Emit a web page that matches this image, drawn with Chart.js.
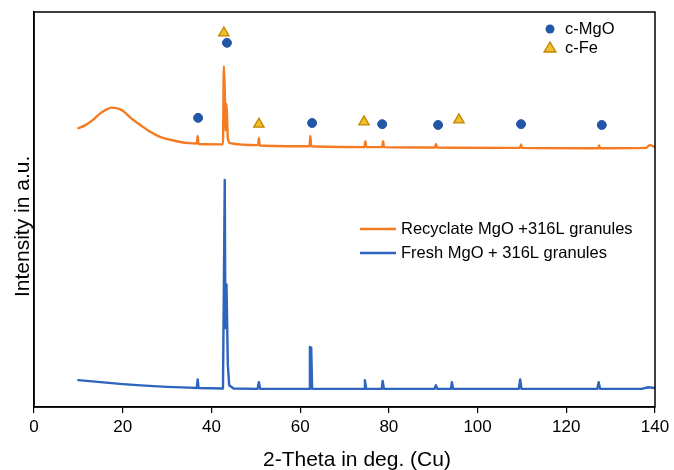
<!DOCTYPE html>
<html>
<head>
<meta charset="utf-8">
<script src="https://cdn.jsdelivr.net/npm/chart.js@4"></script>
<style>
  html, body { margin: 0; padding: 0; background: #fff; }
  #wrap { width: 674px; height: 470px; }
</style>
</head>
<body>
<div id="wrap"><canvas id="xrd" width="674" height="470"></canvas></div>
<script>
// 2-theta positions and intensities (a.u., offset)
const freshTheta = [10, 15, 20, 25, 30, 35, 36.7, 36.9, 37.1, 42.6, 42.8, 43.0, 43.15, 43.4, 43.7, 44.0, 45,
  50.4, 50.7, 51.0, 62.0, 62.2, 62.5, 62.7, 74.4, 74.6, 74.9, 78.4, 78.6, 78.9, 90.3, 90.6, 90.9,
  94.0, 94.2, 94.5, 109.3, 109.6, 109.9, 127.0, 127.3, 127.6, 137, 138.5, 140];
const freshIntensity = [6.8, 6.3, 5.8, 5.4, 5.1, 4.9, 4.8, 7.0, 4.8, 4.7, 30, 57.5, 20, 31, 10.6, 5.5, 4.7,
  4.6, 6.3, 4.6, 4.6, 15.2, 15, 4.6, 4.6, 6.8, 4.6, 4.6, 6.6, 4.6, 4.6, 5.5, 4.6,
  4.6, 6.3, 4.6, 4.6, 7.0, 4.6, 4.6, 6.3, 4.6, 4.6, 5.0, 4.8];

const recycledTheta = [10, 11.5, 13.3, 15, 16.3, 17.5, 18.8, 20, 22, 24, 26, 28.4, 31, 33, 35, 36.7, 36.9, 37.1,
  42.6, 42.8, 43.0, 43.2, 43.4, 43.7, 44.2, 50.5, 50.7, 50.9, 62.1, 62.3, 62.5, 74.5, 74.7, 74.9,
  78.5, 78.7, 78.9, 90.4, 90.6, 90.9, 109.6, 109.8, 110, 127.2, 127.4, 127.6, 138, 138.8, 140];
const recycledIntensity = [70.6, 71.3, 72.7, 74.4, 75.3, 75.8, 75.6, 75.0, 73.0, 71.4, 69.8, 68.4, 67.6, 67.1, 66.8, 66.7, 68.6, 66.6,
  66.5, 86.3, 80, 70, 76.7, 68, 66.8, 66.3, 68.1, 66.2, 66, 68.6, 66, 65.8, 67.3, 65.8,
  65.8, 67.3, 65.8, 65.7, 66.6, 65.7, 65.6, 66.5, 65.6, 65.5, 66.2, 65.5, 65.6, 66.3, 65.8];

// phase markers
const mgoTheta = [37.0, 43.5, 62.7, 78.5, 91.1, 109.8, 128.0];
const mgoLevel = [73.2, 92.2, 71.9, 71.6, 71.4, 71.6, 71.4];
const feTheta = [42.8, 50.7, 74.4, 95.8];
const feLevel = [94.7, 71.6, 72.2, 72.7];

const orange = "#F47B22";
const blue = "#2D64BE";
const dotBlue = "#2456A8";
const triFill = "#F2BE2C";
const triEdge = "#C08600";
const font = "'Liberation Sans', Arial, sans-serif";

const toXY = (xs, ys) => xs.map((x, i) => ({ x: x, y: ys[i] }));

const framePlugin = {
  id: "frame",
  afterDatasetsDraw(chart) {
    const { ctx, chartArea: a } = chart;
    ctx.save();
    ctx.strokeStyle = "#000";
    ctx.lineWidth = 1.5;
    ctx.strokeRect(a.left, a.top, a.right - a.left, a.bottom - a.top);
    ctx.restore();
  },
  afterDraw(chart) {
    const ctx = chart.ctx;
    ctx.save();
    // axis titles
    ctx.fillStyle = "#000";
    ctx.font = "21px " + font;
    ctx.textBaseline = "alphabetic";
    ctx.textAlign = "left";
    ctx.fillText("2-Theta in deg. (Cu)", 263, 466);
    ctx.save();
    ctx.translate(29, 297);
    ctx.rotate(-Math.PI / 2);
    ctx.fillText("Intensity in a.u.", 0, 0);
    ctx.restore();

    ctx.font = "16.5px " + font;
    ctx.textBaseline = "middle";
    // phase legend
    ctx.beginPath();
    ctx.fillStyle = dotBlue;
    ctx.arc(550, 29, 4.5, 0, Math.PI * 2);
    ctx.fill();
    ctx.beginPath();
    ctx.moveTo(550, 42);
    ctx.lineTo(556, 52);
    ctx.lineTo(544, 52);
    ctx.closePath();
    ctx.fillStyle = triFill;
    ctx.strokeStyle = triEdge;
    ctx.lineWidth = 1.3;
    ctx.fill();
    ctx.stroke();
    ctx.fillStyle = "#000";
    ctx.fillText("c-MgO", 565, 29);
    ctx.fillText("c-Fe", 565, 48);
    // sample legend
    ctx.lineWidth = 2.5;
    ctx.strokeStyle = orange;
    ctx.beginPath();
    ctx.moveTo(360, 229);
    ctx.lineTo(396, 229);
    ctx.stroke();
    ctx.strokeStyle = blue;
    ctx.beginPath();
    ctx.moveTo(360, 253);
    ctx.lineTo(396, 253);
    ctx.stroke();
    ctx.fillText("Recyclate MgO +316L granules", 401, 229);
    ctx.fillText("Fresh MgO + 316L granules", 401, 253);
    ctx.restore();
  }
};

new Chart(document.getElementById("xrd"), {
  type: "line",
  data: {
    datasets: [
      {
        label: "c-MgO",
        type: "scatter",
        data: toXY(mgoTheta, mgoLevel),
        pointStyle: "circle",
        pointRadius: 4.5,
        backgroundColor: dotBlue,
        borderColor: dotBlue,
        showLine: false,
        order: 0
      },
      {
        label: "c-Fe",
        type: "scatter",
        data: toXY(feTheta, feLevel),
        pointStyle: "triangle",
        pointRadius: 6,
        backgroundColor: triFill,
        borderColor: triEdge,
        borderWidth: 1.3,
        showLine: false,
        order: 0
      },
      {
        label: "Recyclate MgO +316L granules",
        data: toXY(recycledTheta, recycledIntensity),
        borderColor: orange,
        borderWidth: 2.4,
        borderJoinStyle: "round",
        borderCapStyle: "round",
        cubicInterpolationMode: "monotone",
        pointRadius: 0,
        order: 1
      },
      {
        label: "Fresh MgO + 316L granules",
        data: toXY(freshTheta, freshIntensity),
        borderColor: blue,
        borderWidth: 2.4,
        borderJoinStyle: "round",
        borderCapStyle: "round",
        pointRadius: 0,
        tension: 0,
        order: 2
      }
    ]
  },
  options: {
    responsive: false,
    animation: false,
    layout: { padding: { left: 0, right: 19, top: 12, bottom: 0 } },
    plugins: {
      legend: { display: false },
      tooltip: { enabled: false }
    },
    scales: {
      x: {
        type: "linear",
        min: 0,
        max: 140,
        ticks: { stepSize: 20, color: "#000", font: { family: font, size: 17 }, padding: 4, maxRotation: 0 },
        grid: { drawOnChartArea: false, drawTicks: true, tickLength: 6, color: "#000", lineWidth: 1.2 },
        border: { color: "#000", width: 1.5 },
        title: { display: false, text: "2-Theta in deg. (Cu)" },
        afterFit(scale) { scale.height = 63; }
      },
      y: {
        min: 0,
        max: 100,
        ticks: { display: false },
        grid: { display: false },
        border: { color: "#000", width: 1.5 },
        title: { display: false, text: "Intensity in a.u." },
        afterFit(scale) { scale.width = 34; }
      }
    }
  },
  plugins: [framePlugin]
});
</script>
</body>
</html>
